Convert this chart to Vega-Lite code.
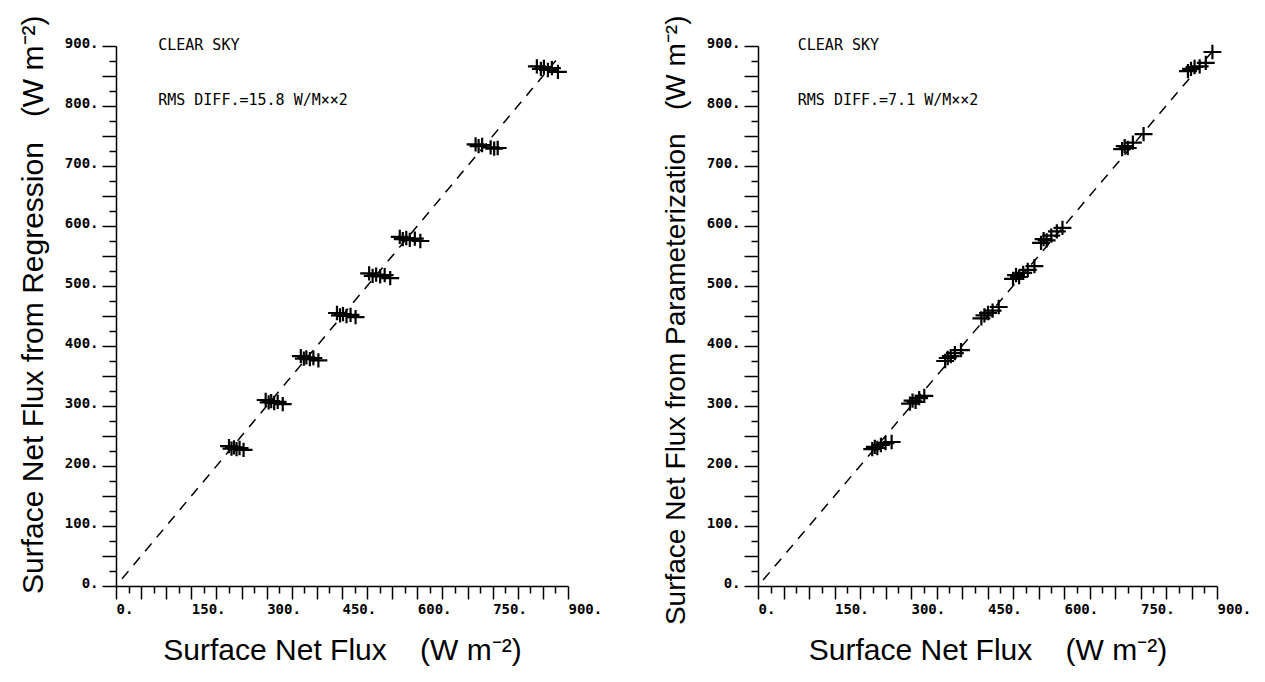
{
  "$schema": "https://vega.github.io/schema/vega-lite/v6.json",
  "background": "white",
  "padding": {"left": 18, "top": 15, "right": 5, "bottom": 5},
  "config": {
    "view": {"stroke": null},
    "axis": {
      "grid": false,
      "domainColor": "black",
      "domainWidth": 1.5,
      "tickColor": "black",
      "tickWidth": 1.5,
      "labelColor": "black",
      "labelFont": "DejaVu Sans Mono",
      "labelFontSize": 14,
      "labelFontWeight": "bold",
      "labelOverlap": false,
      "labelFlush": false,
      "titleFont": "Liberation Sans",
      "titleFontSize": 30,
      "titleFontWeight": "normal",
      "titleColor": "black"
    }
  },
  "datasets": {
    "regression": [
      {"x": 225, "y": 233}, {"x": 230, "y": 229}, {"x": 235, "y": 231}, {"x": 240, "y": 228}, {"x": 246, "y": 230}, {"x": 254, "y": 227},
      {"x": 298, "y": 310}, {"x": 304, "y": 306}, {"x": 309, "y": 308}, {"x": 315, "y": 305}, {"x": 322, "y": 307}, {"x": 332, "y": 303},
      {"x": 368, "y": 383}, {"x": 374, "y": 379}, {"x": 379, "y": 381}, {"x": 386, "y": 378}, {"x": 393, "y": 380}, {"x": 403, "y": 376},
      {"x": 440, "y": 455}, {"x": 446, "y": 451}, {"x": 452, "y": 453}, {"x": 459, "y": 450}, {"x": 467, "y": 452}, {"x": 477, "y": 448},
      {"x": 504, "y": 521}, {"x": 511, "y": 517}, {"x": 518, "y": 519}, {"x": 526, "y": 516}, {"x": 535, "y": 518}, {"x": 546, "y": 513},
      {"x": 565, "y": 582}, {"x": 571, "y": 578}, {"x": 578, "y": 580}, {"x": 585, "y": 577}, {"x": 595, "y": 579}, {"x": 606, "y": 575},
      {"x": 716, "y": 736}, {"x": 722, "y": 733}, {"x": 729, "y": 735}, {"x": 746, "y": 731}, {"x": 753, "y": 729}, {"x": 760, "y": 730},
      {"x": 838, "y": 866}, {"x": 846, "y": 862}, {"x": 852, "y": 865}, {"x": 860, "y": 860}, {"x": 868, "y": 863}, {"x": 880, "y": 857}
    ],
    "param": [
      {"x": 224, "y": 228}, {"x": 229, "y": 232}, {"x": 234, "y": 230}, {"x": 241, "y": 235}, {"x": 250, "y": 238}, {"x": 262, "y": 240},
      {"x": 298, "y": 304}, {"x": 303, "y": 309}, {"x": 309, "y": 307}, {"x": 316, "y": 313}, {"x": 326, "y": 317},
      {"x": 367, "y": 375}, {"x": 372, "y": 380}, {"x": 378, "y": 383}, {"x": 386, "y": 388}, {"x": 398, "y": 393},
      {"x": 438, "y": 446}, {"x": 444, "y": 451}, {"x": 451, "y": 455}, {"x": 460, "y": 459}, {"x": 472, "y": 465},
      {"x": 500, "y": 512}, {"x": 506, "y": 518}, {"x": 512, "y": 515}, {"x": 520, "y": 522}, {"x": 529, "y": 527}, {"x": 542, "y": 533},
      {"x": 555, "y": 572}, {"x": 560, "y": 578}, {"x": 566, "y": 576}, {"x": 575, "y": 584}, {"x": 586, "y": 591}, {"x": 597, "y": 597},
      {"x": 714, "y": 728}, {"x": 719, "y": 733}, {"x": 725, "y": 730}, {"x": 735, "y": 739}, {"x": 756, "y": 753},
      {"x": 843, "y": 858}, {"x": 849, "y": 862}, {"x": 856, "y": 865}, {"x": 866, "y": 866}, {"x": 878, "y": 872}, {"x": 891, "y": 890}
    ],
    "line1": [{"x": 12, "y": 12}, {"x": 880, "y": 880}],
    "line2": [{"x": 10, "y": 10}, {"x": 890, "y": 890}],
    "text1": [
      {"x": 84, "y": 902, "label": "CLEAR SKY"},
      {"x": 84, "y": 810, "label": "RMS DIFF.=15.8 W/M××2"}
    ],
    "text2": [
      {"x": 78, "y": 902, "label": "CLEAR SKY"},
      {"x": 78, "y": 810, "label": "RMS DIFF.=7.1 W/M××2"}
    ]
  },
  "hconcat": [
    {
      "width": 452,
      "height": 540,
      "encoding": {
        "x": {
          "field": "x", "type": "quantitative",
          "scale": {"domain": [0, 900], "nice": false, "zero": false},
          "axis": {
            "title": "Surface Net Flux\u00a0\u00a0\u00a0\u00a0(W m⁻²)",
            "values": [0,25,50,75,100,125,150,175,200,225,250,275,300,325,350,375,400,425,450,475,500,525,550,575,600,625,650,675,700,725,750,775,800,825,850,875,900],
            "labelExpr": "datum.value % 150 === 0 ? datum.value + '.' : ''",
            "labelAlign": "left",
            "labelPadding": 3,
            "tickSize": {"condition": {"test": "datum.value % 50 === 0", "value": 13}, "value": 7},
            "titlePadding": 19
          }
        },
        "y": {
          "field": "y", "type": "quantitative",
          "scale": {"domain": [0, 900], "nice": false, "zero": false},
          "axis": {
            "title": "Surface Net Flux from Regression\u00a0\u00a0\u00a0(W m⁻²)",
            "values": [0,25,50,75,100,125,150,175,200,225,250,275,300,325,350,375,400,425,450,475,500,525,550,575,600,625,650,675,700,725,750,775,800,825,850,875,900],
            "labelExpr": "datum.value % 100 === 0 ? datum.value + '.' : ''",
            "labelPadding": 4,
            "labelOffset": -3,
            "tickSize": {"condition": {"test": "datum.value % 50 === 0", "value": 14}, "value": 7},
            "titlePadding": 16,
            "titleAnchor": "end",
            "titleY": -31
          }
        }
      },
      "layer": [
        {
          "data": {"name": "line1"},
          "mark": {"type": "line", "color": "black", "strokeWidth": 1.5, "strokeDash": [10, 8]}
        },
        {
          "data": {"name": "regression"},
          "mark": {"type": "point", "shape": "M-1,0L1,0M0,-0.8L0,0.8", "filled": false, "stroke": "black", "strokeWidth": 2.2, "size": 320, "opacity": 1}
        },
        {
          "data": {"name": "text1"},
          "mark": {"type": "text", "align": "left", "baseline": "middle", "font": "DejaVu Sans Mono", "fontSize": 15, "color": "black"},
          "encoding": {"text": {"field": "label"}}
        }
      ]
    },
    {
      "width": 459,
      "height": 540,
      "encoding": {
        "x": {
          "field": "x", "type": "quantitative",
          "scale": {"domain": [0, 900], "nice": false, "zero": false},
          "axis": {
            "title": "Surface Net Flux\u00a0\u00a0\u00a0\u00a0(W m⁻²)",
            "values": [0,25,50,75,100,125,150,175,200,225,250,275,300,325,350,375,400,425,450,475,500,525,550,575,600,625,650,675,700,725,750,775,800,825,850,875,900],
            "labelExpr": "datum.value % 150 === 0 ? datum.value + '.' : ''",
            "labelAlign": "left",
            "labelPadding": 3,
            "tickSize": {"condition": {"test": "datum.value % 50 === 0", "value": 13}, "value": 7},
            "titlePadding": 19
          }
        },
        "y": {
          "field": "y", "type": "quantitative",
          "scale": {"domain": [0, 900], "nice": false, "zero": false},
          "axis": {
            "title": "Surface Net Flux from Parameterization\u00a0\u00a0\u00a0(W m⁻²)",
            "values": [0,25,50,75,100,125,150,175,200,225,250,275,300,325,350,375,400,425,450,475,500,525,550,575,600,625,650,675,700,725,750,775,800,825,850,875,900],
            "labelExpr": "datum.value % 100 === 0 ? datum.value + '.' : ''",
            "labelPadding": 4,
            "labelOffset": -3,
            "tickSize": {"condition": {"test": "datum.value % 50 === 0", "value": 14}, "value": 7},
            "titlePadding": 16,
            "titleFontSize": 28,
            "titleAnchor": "end",
            "titleY": -31
          }
        }
      },
      "layer": [
        {
          "data": {"name": "line2"},
          "mark": {"type": "line", "color": "black", "strokeWidth": 1.5, "strokeDash": [10, 8]}
        },
        {
          "data": {"name": "param"},
          "mark": {"type": "point", "shape": "M-1,0L1,0M0,-0.8L0,0.8", "filled": false, "stroke": "black", "strokeWidth": 2.2, "size": 320, "opacity": 1}
        },
        {
          "data": {"name": "text2"},
          "mark": {"type": "text", "align": "left", "baseline": "middle", "font": "DejaVu Sans Mono", "fontSize": 15, "color": "black"},
          "encoding": {"text": {"field": "label"}}
        }
      ]
    }
  ],
  "spacing": 60
}
